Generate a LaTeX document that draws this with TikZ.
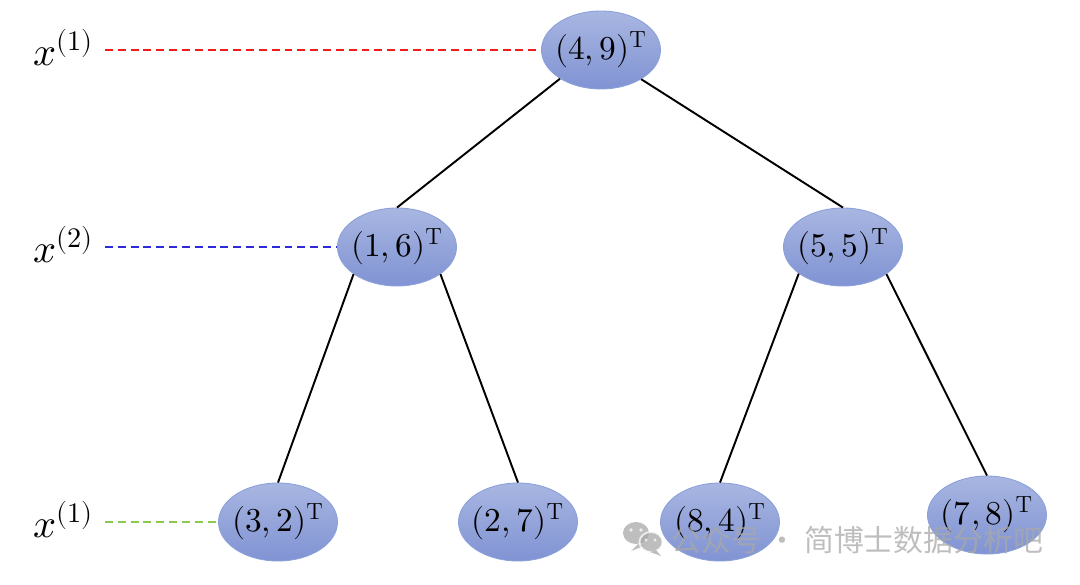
\documentclass[tikz,border=0pt]{standalone}
\usepackage{fontspec}
\usepackage{unicode-math}
\newfontfamily\cjk{Noto Sans CJK SC}
\usetikzlibrary{shapes.geometric}
\definecolor{ntop}{HTML}{A8B6E1}
\definecolor{nbot}{HTML}{8093D3}
\definecolor{nborder}{HTML}{8CA0DA}
\definecolor{lred}{HTML}{EE1C1C}
\definecolor{lblue}{HTML}{2B2BD9}
\definecolor{lgreen}{HTML}{8CCB4A}
\definecolor{wm}{HTML}{A8A8A8}
\begin{document}
\begin{tikzpicture}[x=0.02cm,y=-0.02cm,
  kd/.style={ellipse, draw=nborder, line width=0.5pt, top color=ntop, bottom color=nbot,
    minimum width=2.38cm, minimum height=1.56cm, inner sep=0pt,
    label={[inner sep=0pt, font=\fontsize{19}{22}\selectfont]center:#1}},
  edge/.style={line width=1.1pt, black},
  lvl/.style={dashed, dash pattern=on 4.5pt off 2.8pt, line width=0.85pt},
  lab/.style={anchor=base west, inner sep=0pt, font=\fontsize{23}{27}\selectfont}]
\useasboundingbox (0,0) rectangle (1080,585);
% nodes
\node[kd={$(4,9)^{\mathrm{T}}$}] (r)  at (601,50)  {};
\node[kd={$(1,6)^{\mathrm{T}}$}] (a)  at (397,247) {};
\node[kd={$(5,5)^{\mathrm{T}}$}] (b)  at (843,247) {};
\node[kd={$(3,2)^{\mathrm{T}}$}] (aa) at (278,522) {};
\node[kd={$(2,7)^{\mathrm{T}}$}] (ab) at (518,522) {};
\node[kd={$(8,4)^{\mathrm{T}}$}] (ba) at (720,522) {};
\node[kd={$(7,8)^{\mathrm{T}}$}] (bb) at (987,515) {};
% edges
\draw[edge] (r.215) -- (a.north);
\draw[edge] (r.324) -- (b.north);
\draw[edge] (a.212) -- (aa.north);
\draw[edge] (a.328) -- (ab.north);
\draw[edge] (b.211) -- (ba.north);
\draw[edge] (b.328) -- (bb.north);
% level labels
\node[lab] (l1) at (33,65)  {$x^{(1)}$};
\node[lab] (l2) at (33,262) {$x^{(2)}$};
\node[lab] (l3) at (33,537) {$x^{(1)}$};
\coordinate (c1) at (105,50);
\coordinate (c2) at (105,247);
\coordinate (c3) at (105,522);
\draw[lvl, lred]   (c1) -- (r.west);
\draw[lvl, lblue]  (c2) -- (a.west);
\draw[lvl, lgreen] (c3) -- (aa.west);
% watermark
\begin{scope}[opacity=0.75]
\fill[wm] (636,533) ellipse (13 and 11);
\fill[wm] (638,544) -- (631,551) -- (644,546) -- cycle;
\fill[white] (631,530) circle (1.8) (641,530) circle (1.8);
\filldraw[wm, draw=white, line width=1pt] (651,542) ellipse (11.5 and 10);
\fill[wm] (656,550) -- (661,556) -- (650,552) -- cycle;
\fill[white] (646,540) circle (1.6) (655,540) circle (1.6);
\node[anchor=west, inner sep=0pt, text=wm, font=\cjk\fontsize{17}{20}\selectfont] (wmt) at (671,540) {公众号 · 简博士数据分析吧};
\end{scope}
\end{tikzpicture}
\end{document}
